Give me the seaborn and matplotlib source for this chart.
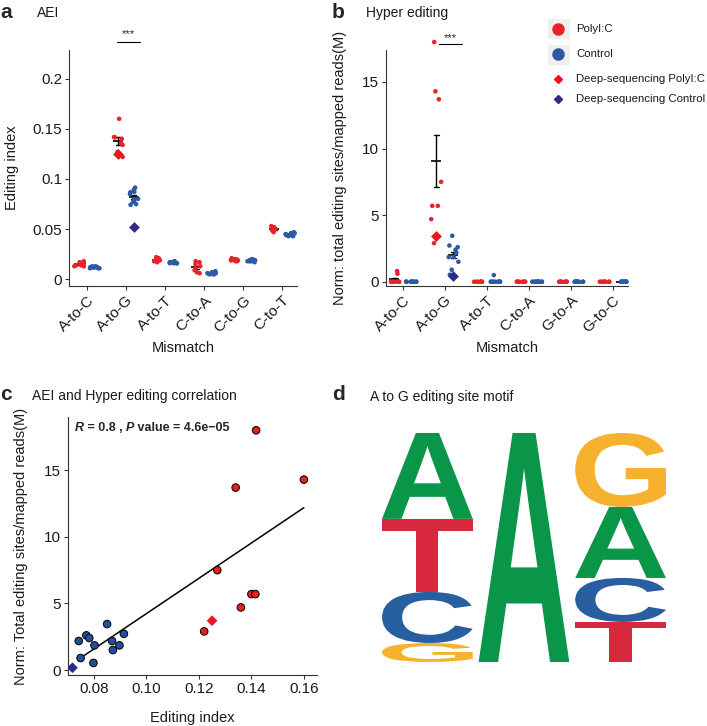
import numpy as np
import pandas as pd
import matplotlib
matplotlib.use('Agg')
import matplotlib.pyplot as plt
import seaborn as sns
from matplotlib.textpath import TextPath
from matplotlib.patches import PathPatch, Rectangle
from matplotlib.font_manager import FontProperties
from matplotlib.lines import Line2D
from matplotlib.transforms import Affine2D

# ---------------- data ----------------
groups = ['PolyI:C', 'Control']
aei_mismatch = ['A-to-C', 'A-to-G', 'A-to-T', 'C-to-A', 'C-to-G', 'C-to-T']
hyper_mismatch = ['A-to-C', 'A-to-G', 'A-to-T', 'C-to-A', 'G-to-A', 'G-to-C']

# per sample A-to-G values, shared by panels a, b, c
polyic_aei = [0.122, 0.127, 0.134, 0.136, 0.140, 0.1415, 0.1418, 0.160]
polyic_hyper = [2.9, 7.5, 13.7, 4.7, 5.7, 5.7, 18.0, 14.3]
control_aei = [0.0742, 0.0749, 0.0771, 0.0782, 0.0802, 0.0798, 0.085, 0.0869, 0.0872, 0.0897, 0.0914]
control_hyper = [2.18, 0.9, 2.6, 2.4, 1.85, 0.53, 3.45, 2.18, 1.5, 1.85, 2.72]

# panel a, other mismatch types (same order as aei_mismatch)
aei_polyic_vals = [
    [0.018, 0.017, 0.016, 0.015, 0.014, 0.014, 0.013, 0.013],
    polyic_aei,
    [0.022, 0.021, 0.020, 0.019, 0.019, 0.018, 0.018, 0.017],
    [0.018, 0.017, 0.015, 0.013, 0.011, 0.009, 0.007, 0.006],
    [0.021, 0.020, 0.020, 0.019, 0.019, 0.019, 0.018, 0.018],
    [0.053, 0.052, 0.051, 0.050, 0.050, 0.049, 0.048, 0.047],
]
aei_control_vals = [
    [0.013, 0.012, 0.012, 0.012, 0.011, 0.011, 0.012, 0.013, 0.011, 0.012, 0.012],
    control_aei,
    [0.018, 0.017, 0.017, 0.016, 0.016, 0.017, 0.018, 0.016, 0.017, 0.017, 0.016],
    [0.008, 0.007, 0.006, 0.006, 0.005, 0.005, 0.006, 0.007, 0.005, 0.006, 0.007],
    [0.020, 0.019, 0.019, 0.018, 0.018, 0.019, 0.020, 0.018, 0.019, 0.017, 0.018],
    [0.047, 0.046, 0.045, 0.045, 0.044, 0.044, 0.043, 0.043, 0.045, 0.046, 0.044],
]

# panel b (same order as hyper_mismatch)
hyper_polyic_vals = [
    [0.8, 0.6, 0, 0, 0, 0, 0, 0],
    polyic_hyper,
    [0, 0, 0, 0, 0, 0, 0, 0],
    [0, 0, 0, 0, 0, 0, 0, 0],
    [0, 0, 0, 0, 0, 0, 0, 0],
    [0, 0, 0, 0, 0, 0, 0, 0],
]
hyper_control_vals = [
    [0, 0, 0, 0, 0, 0, 0, 0, 0, 0, 0],
    control_hyper,
    [0.5, 0, 0, 0, 0, 0, 0, 0, 0, 0, 0],
    [0, 0, 0, 0, 0, 0, 0, 0, 0, 0, 0],
    [0, 0, 0, 0, 0, 0, 0, 0, 0, 0, 0],
    [0, 0, 0, 0, 0, 0, 0, 0, 0, 0, 0],
]

# deep-sequencing samples (PolyI:C, Control)
deep_aei = [0.125, 0.052]
deep_hyper = [3.45, 0.45]
deep_corr_x = [0.125, 0.0718]
deep_corr_y = [3.7, 0.17]

# panel d motif: letter frequencies per position
motif_letters = ['A', 'C', 'G', 'T']
motif_pos1 = [0.376, 0.223, 0.083, 0.319]
motif_pos2 = [1.0, 0.0, 0.0, 0.0]
motif_pos3 = [0.310, 0.192, 0.323, 0.175]

# ---------------- style ----------------
red = '#E9232B'
blue = '#2C5AA6'
deep_red = '#F2121C'
deep_blue = '#2E2B88'
logo_colors = {'A': '#0A9649', 'C': '#285FA1', 'G': '#F6B12F', 'T': '#D8283E'}
axis_col = '#333333'
txt_col = '#1a1a1a'

sns.set_theme(style='ticks')
plt.rcParams['font.family'] = ['Liberation Sans', 'DejaVu Sans']
plt.rcParams['axes.edgecolor'] = axis_col
plt.rcParams['axes.linewidth'] = 0.8

np.random.seed(4)


def long_df(cats, polyic_lists, control_lists):
    rows = []
    for cat, p, c in zip(cats, polyic_lists, control_lists):
        rows += [(cat, 'PolyI:C', v) for v in p]
        rows += [(cat, 'Control', v) for v in c]
    return pd.DataFrame(rows, columns=['mismatch', 'group', 'value'])


def style_axis(ax):
    sns.despine(ax=ax)
    ax.tick_params(axis='both', labelsize=11, length=3, width=0.8,
                   color=axis_col, labelcolor=txt_col, pad=2)


def strip_panel(ax, df, deep_vals, order):
    sns.stripplot(data=df, x='mismatch', y='value', hue='group', order=order,
                  hue_order=groups, palette=[red, blue], dodge=True, jitter=0.25,
                  size=3.3, linewidth=0, legend=False, ax=ax, clip_on=False)
    deep_df = pd.DataFrame({'mismatch': ['A-to-G', 'A-to-G'], 'group': groups,
                            'value': deep_vals})
    sns.stripplot(data=deep_df, x='mismatch', y='value', hue='group', order=order,
                  hue_order=groups, palette=[deep_red, deep_blue], dodge=True,
                  jitter=False, marker='D', size=5.5, linewidth=0, legend=False, ax=ax)
    sns.pointplot(data=df, x='mismatch', y='value', hue='group', order=order,
                  hue_order=groups, palette=['black', 'black'], dodge=0.4,
                  errorbar='se', capsize=0.12, linestyle='none', marker='_',
                  markersize=7, markeredgewidth=1.2, err_kws={'linewidth': 1.0},
                  legend=False, ax=ax)
    ax.set_xlabel('Mismatch', fontsize=10.5, color=txt_col)
    style_axis(ax)
    plt.setp(ax.get_xticklabels(), rotation=45, ha='right', rotation_mode='anchor')


fig = plt.figure(figsize=(7.07, 7.26), dpi=100)
W, H = 707.0, 726.0


def fig_axes(left, top, right, bottom):
    return fig.add_axes([left / W, 1 - bottom / H, (right - left) / W, (bottom - top) / H])


# ---------------- panel a ----------------
ax_a = fig_axes(69, 50, 297, 286)
strip_panel(ax_a, long_df(aei_mismatch, aei_polyic_vals, aei_control_vals), deep_aei, aei_mismatch)
ax_a.set_xlim(-0.46, 5.38)
ax_a.set_ylim(-0.0067, 0.2286)
ax_a.set_yticks([0, 0.05, 0.1, 0.15, 0.2])
ax_a.set_yticklabels(['0', '0.05', '0.1', '0.15', '0.2'])
ax_a.set_ylabel('Editing index', fontsize=10.5, color=txt_col)
ax_a.yaxis.set_label_coords(-0.22, 0.5)
ax_a.xaxis.set_label_coords(0.5, -0.233)
ax_a.plot([0.77, 1.36], [0.237, 0.237], color='black', lw=0.8, clip_on=False)
ax_a.text(1.06, 0.239, '***', ha='center', va='bottom', fontsize=8, clip_on=False)

# ---------------- panel b ----------------
ax_b = fig_axes(386, 50, 628, 286)
strip_panel(ax_b, long_df(hyper_mismatch, hyper_polyic_vals, hyper_control_vals), deep_hyper, hyper_mismatch)
ax_b.set_xlim(-0.40, 5.36)
ax_b.set_ylim(-0.32, 17.4)
ax_b.set_yticks([0, 5, 10, 15])
ax_b.set_ylabel('Norm: total editing sites/mapped reads(M)', fontsize=10.5, color=txt_col)
ax_b.yaxis.set_label_coords(-0.16, 0.5)
ax_b.xaxis.set_label_coords(0.5, -0.233)
ax_b.plot([0.86, 1.40], [17.85, 17.85], color='black', lw=0.8, clip_on=False)
ax_b.text(1.13, 17.95, '***', ha='center', va='bottom', fontsize=8, clip_on=False)

# ---------------- panel c ----------------
ax_c = fig_axes(68, 417, 317, 675)
corr_df = pd.DataFrame({
    'aei': polyic_aei + control_aei,
    'hyper': polyic_hyper + control_hyper,
    'group': ['PolyI:C'] * len(polyic_aei) + ['Control'] * len(control_aei),
})
sns.regplot(data=corr_df, x='aei', y='hyper', scatter=False, ci=None, truncate=True,
            color='black', line_kws={'lw': 1.1}, ax=ax_c)
sns.scatterplot(data=corr_df, x='aei', y='hyper', hue='group', hue_order=groups,
                palette=['#E2211C', '#21509A'], edgecolor='black', linewidth=0.7,
                s=30, legend=False, ax=ax_c, zorder=3)
deep_corr_df = pd.DataFrame({'aei': deep_corr_x, 'hyper': deep_corr_y, 'group': groups})
sns.scatterplot(data=deep_corr_df, x='aei', y='hyper', hue='group', hue_order=groups,
                palette=[deep_red, deep_blue], marker='D', s=30, linewidth=0,
                legend=False, ax=ax_c, zorder=3)
ax_c.set_xlim(0.0701, 0.165)
ax_c.set_ylim(-0.375, 19.0)
ax_c.set_xticks([0.08, 0.10, 0.12, 0.14, 0.16])
ax_c.set_xticklabels(['0.08', '0.10', '0.12', '0.14', '0.16'])
ax_c.set_yticks([0, 5, 10, 15])
ax_c.set_xlabel('Editing index', fontsize=10.5, color=txt_col)
ax_c.set_ylabel('Norm: Total editing sites/mapped reads(M)', fontsize=10.5, color=txt_col)
ax_c.yaxis.set_label_coords(-0.16, 0.5)
ax_c.xaxis.set_label_coords(0.5, -0.14)
style_axis(ax_c)

# stats label with italic R and P
t1 = ax_c.text(0.028, 0.957, 'R', transform=ax_c.transAxes, fontsize=9,
               fontweight='bold', style='italic', va='center')
t2 = ax_c.annotate(' = 0.8 , ', xy=(1, 0), xycoords=t1, fontsize=9,
                   fontweight='bold', va='bottom')
t3 = ax_c.annotate('P', xy=(1, 0), xycoords=t2, fontsize=9,
                   fontweight='bold', style='italic', va='bottom')
ax_c.annotate(' value = 4.6e\u221205', xy=(1, 0), xycoords=t3, fontsize=9,
              fontweight='bold', va='bottom')

# ---------------- panel d: sequence logo ----------------
ax_d = fig_axes(382, 433, 667, 662)
ax_d.set_xlim(0, 3)
ax_d.set_ylim(0, 1)
ax_d.axis('off')
logo_font = FontProperties(family='Liberation Sans', weight='bold')
for i, freqs in enumerate([motif_pos1, motif_pos2, motif_pos3]):
    bottom = 0.0
    for f, letter in sorted(zip(freqs, motif_letters)):
        if f <= 0:
            continue
        tp = TextPath((0, 0), letter, size=1, prop=logo_font)
        bb = tp.get_extents()
        tr = (Affine2D().translate(-bb.x0, -bb.y0)
              .scale(0.955 / bb.width, f / bb.height)
              .translate(i * 1.017, bottom))
        ax_d.add_patch(PathPatch(tr.transform_path(tp), fc=logo_colors[letter], ec='none'))
        bottom += f

# ---------------- legend (manual, ggplot style keys) ----------------
for y0 in (19, 45):
    fig.add_artist(Rectangle((548 / W, 1 - (y0 + 20) / H), 22 / W, 20 / H,
                             transform=fig.transFigure, fc='#EFEFEF', ec='none'))
legend_items = [
    ('PolyI:C', red, 'o', 8, 29),
    ('Control', blue, 'o', 8, 54),
    ('Deep-sequencing PolyI:C', deep_red, 'D', 4.5, 79),
    ('Deep-sequencing Control', deep_blue, 'D', 4.5, 99),
]
for label, col, mk, ms, ypx in legend_items:
    fig.add_artist(Line2D([558 / W], [1 - ypx / H], transform=fig.transFigure,
                          marker=mk, markersize=ms, color=col, linestyle='none'))
    fig.text(576 / W, 1 - ypx / H, label, fontsize=8.2, va='center', color=txt_col)

# ---------------- panel letters and titles ----------------
for letter, x, y in [('a', 0, 12), ('b', 332, 12), ('c', 0, 395), ('d', 332, 395)]:
    fig.text(x / W, 1 - y / H, letter, fontsize=15, fontweight='bold', va='center')
for title, x, y in [('AEI', 37, 13), ('Hyper editing', 366, 13),
                    ('AEI and Hyper editing correlation', 32, 396),
                    ('A to G editing site motif', 370, 397)]:
    fig.text(x / W, 1 - y / H, title, fontsize=10, va='center', color=txt_col)

fig.savefig('out.png', dpi=100)
